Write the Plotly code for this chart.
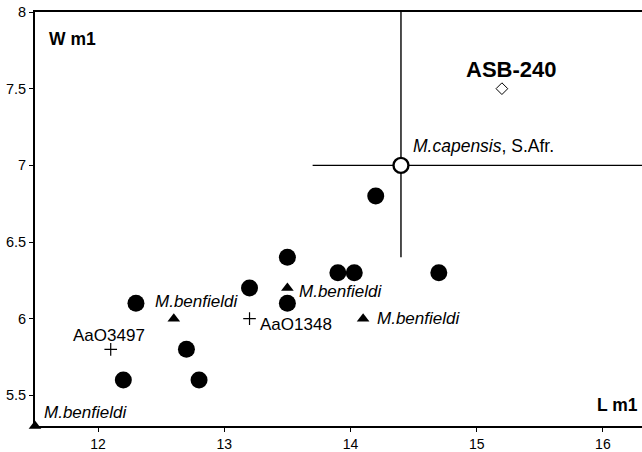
import plotly.graph_objects as go

# ---- data ----
circle_x = [12.3, 12.2, 12.7, 12.8, 13.2, 13.5, 13.5, 13.9, 14.03, 14.2, 14.7]
circle_y = [6.1, 5.6, 5.8, 5.6, 6.2, 6.1, 6.4, 6.3, 6.3, 6.8, 6.3]

benf_x = [11.5, 12.6, 13.5, 14.1]
benf_y = [5.3, 6.0, 6.2, 6.0]
benf_label = "M.benfieldi"

cross_x = [12.1, 13.2]
cross_y = [5.8, 6.0]
cross_labels = ["AaO3497", "AaO1348"]

capensis_x = [14.4]
capensis_y = [7.0]
capensis_xrange = [13.7, 16.6]
capensis_yrange = [6.4, 8.2]

asb_x = [15.2]
asb_y = [7.5]
asb_label = "ASB-240"

x_ticks = [12, 13, 14, 15, 16]
y_ticks = [5.5, 6, 6.5, 7, 7.5, 8]

FONT = "Arial, Liberation Sans, sans-serif"

fig = go.Figure()

# capensis range lines
fig.add_trace(go.Scatter(x=capensis_xrange, y=[capensis_y[0]] * 2, mode="lines",
                         line=dict(color="black", width=1.4), cliponaxis=True, showlegend=False))
fig.add_trace(go.Scatter(x=[capensis_x[0]] * 2, y=capensis_yrange, mode="lines",
                         line=dict(color="black", width=1.4), cliponaxis=True, showlegend=False))

fig.add_trace(go.Scatter(x=circle_x, y=circle_y, mode="markers",
                         marker=dict(symbol="circle", size=17, color="black"),
                         showlegend=False))
fig.add_trace(go.Scatter(x=benf_x, y=benf_y, mode="markers",
                         marker=dict(symbol="triangle-up", size=11, color="black"),
                         cliponaxis=False, showlegend=False))
fig.add_trace(go.Scatter(x=cross_x, y=cross_y, mode="markers",
                         marker=dict(symbol="cross-thin", size=9,
                                     line=dict(color="black", width=1.2)),
                         showlegend=False))
fig.add_trace(go.Scatter(x=capensis_x, y=capensis_y, mode="markers",
                         marker=dict(symbol="circle", size=15, color="white",
                                     line=dict(color="black", width=2.4)),
                         showlegend=False))
fig.add_trace(go.Scatter(x=asb_x, y=asb_y, mode="markers",
                         marker=dict(symbol="diamond", size=9, color="white",
                                     line=dict(color="black", width=1)),
                         showlegend=False))

ann = []
benf_offsets = [(7, 14, "left"), (-21, 17, "left"), (10, -3, "left"), (12, 0, "left")]
for bx, by, (dx, dy, xa) in zip(benf_x, benf_y, benf_offsets):
    ann.append(dict(x=bx, y=by, text="<i>" + benf_label + "</i>", xshift=dx, yshift=dy,
                    xanchor=xa, yanchor="middle", showarrow=False,
                    font=dict(size=17, family=FONT, color="black")))
cross_offsets = [(-2, 14, "center"), (8, -6, "left")]
for cx, cy, lab, (dx, dy, xa) in zip(cross_x, cross_y, cross_labels, cross_offsets):
    ann.append(dict(x=cx, y=cy, text=lab, xshift=dx, yshift=dy, xanchor=xa,
                    yanchor="middle", showarrow=False,
                    font=dict(size=17, family=FONT, color="black")))
ann.append(dict(x=capensis_x[0], y=capensis_y[0], text="<i>M.capensis</i>, S.Afr.",
                xshift=10, yshift=19, xanchor="left", yanchor="middle", showarrow=False,
                font=dict(size=17.5, family=FONT, color="black")))
ann.append(dict(x=asb_x[0], y=asb_y[0], text="<b>" + asb_label + "</b>",
                xshift=9, yshift=19, xanchor="center", yanchor="middle", showarrow=False,
                font=dict(size=22, family=FONT, color="black")))
ann.append(dict(x=0.02, y=0.935, xref="paper", yref="paper", text="<b>W m1</b>",
                xanchor="left", yanchor="middle", showarrow=False,
                font=dict(size=17.5, family=FONT, color="black")))
ann.append(dict(x=0.996, y=0.05, xref="paper", yref="paper", text="<b>L m1</b>",
                xanchor="right", yanchor="middle", showarrow=False,
                font=dict(size=17.5, family=FONT, color="black")))

fig.update_layout(
    width=642, height=452,
    margin=dict(l=35, r=0, t=12, b=23),
    paper_bgcolor="white", plot_bgcolor="white",
    annotations=ann,
    font=dict(family=FONT, size=14, color="black"),
)
fig.update_xaxes(range=[11.5, 16.31], tickvals=x_ticks, ticks="outside", ticklen=4,
                 tickcolor="black", showline=True, linecolor="black", linewidth=2,
                 mirror=True, showgrid=False, zeroline=False,
                 tickfont=dict(size=14, family=FONT))
fig.update_yaxes(range=[5.3, 8.0], tickvals=y_ticks, ticks="outside", ticklen=4,
                 tickcolor="black", showline=True, linecolor="black", linewidth=2,
                 showgrid=False, zeroline=False,
                 tickfont=dict(size=14.5, family=FONT))

fig.write_html("out.html")
